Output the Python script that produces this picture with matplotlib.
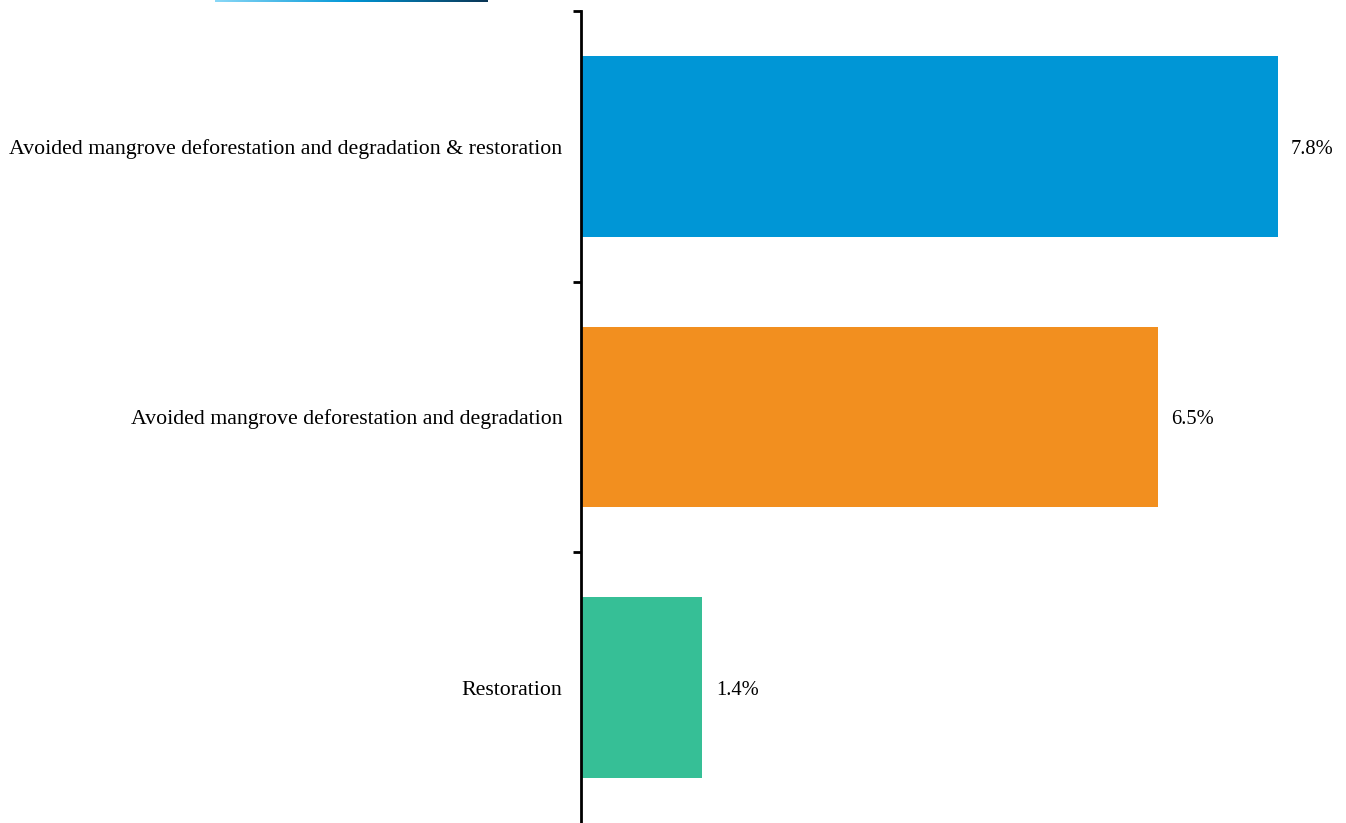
import numpy as np
import matplotlib.pyplot as plt
from matplotlib.colors import LinearSegmentedColormap

# Data
categories = ["Avoided mangrove deforestation and degradation & restoration",
              "Avoided mangrove deforestation and degradation",
              "Restoration"]
values = [7.8, 6.46, 1.36]
colors = ["#0096d6", "#f28f1f", "#36bf96"]

plt.rcParams['font.family'] = ['Liberation Serif', 'DejaVu Serif']

fig = plt.figure(figsize=(13.46, 8.23), dpi=100)
ax = fig.add_axes([581 / 1346, 0.0, 1 - 581 / 1346, 1 - 11 / 823])

y = np.arange(len(categories))
ax.barh(y, values, height=0.667, color=colors)
ax.set_ylim(len(categories) - 0.5, -0.5)
ax.set_xlim(0, (1346 - 581) / 89.3)

for yi, v in zip(y, values):
    ax.text(v + 0.15, yi + 0.01, f"{v:.1f}%", va='center', ha='left', fontsize=14.8)

ax.set_yticks(y)
ax.set_yticklabels(categories, fontsize=15.75)
ax.tick_params(axis='y', which='major', length=0, pad=13.5)
ax.set_yticks(np.arange(-0.5, len(categories) - 1, 1.0), minor=True)
ax.tick_params(axis='y', which='minor', length=6, width=2)
ax.set_xticks([])
for s in ['top', 'right', 'bottom']:
    ax.spines[s].set_visible(False)
ax.spines['left'].set_linewidth(2)

# decorative gradient strip at top-left
gax = fig.add_axes([215 / 1346, 1 - 2 / 823, (488 - 215) / 1346, 2 / 823])
cmap = LinearSegmentedColormap.from_list('g', ["#8ad8f7", "#0096d6", "#0a3554"])
gax.imshow(np.linspace(0, 1, 256)[None, :], aspect='auto', cmap=cmap)
gax.axis('off')

fig.savefig("out.png", dpi=100)
